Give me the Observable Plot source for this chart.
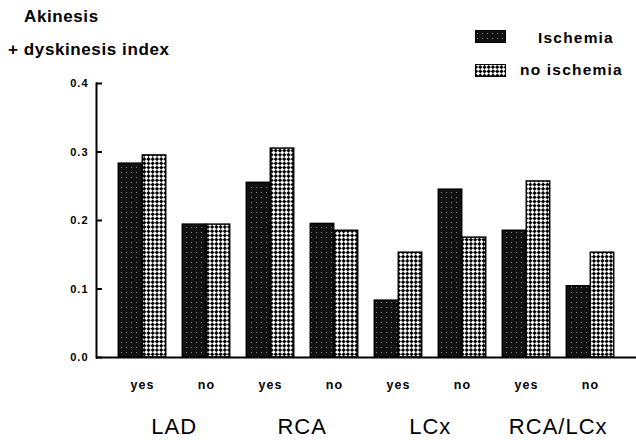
<!DOCTYPE html>
<html><head><meta charset="utf-8">
<script src="https://cdn.jsdelivr.net/npm/d3@7"></script>
<script src="https://cdn.jsdelivr.net/npm/@observablehq/plot@0.6"></script>
<style>
body{margin:0;background:#fff;font-family:"Liberation Sans",Arial,sans-serif;}
#wrap{position:relative;width:636px;height:440px;}
.t{position:absolute;font-weight:bold;white-space:nowrap;color:#000;line-height:1;}
.sw{position:absolute;width:29px;height:11px;border:1.5px solid #000;}
</style></head><body>
<svg width="0" height="0" style="position:absolute"><defs>
<pattern id="stip" width="5" height="5" patternUnits="userSpaceOnUse"><rect width="5" height="5" fill="#111"/><rect x="1" y="2" width="1" height="1" fill="#888"/></pattern>
<pattern id="check" width="6" height="6" patternUnits="userSpaceOnUse" patternTransform="rotate(45)"><rect width="6" height="6" fill="#fff"/><rect width="3" height="3" fill="#000"/><rect x="3" y="3" width="3" height="3" fill="#000"/></pattern>
</defs></svg>
<div id="wrap">
  <div id="chart"></div>
  <div class="t" style="left:24px;top:8px;font-size:17px;letter-spacing:0.6px">Akinesis</div>
  <div class="t" style="left:8px;top:41px;font-size:17px;letter-spacing:0.6px">+ dyskinesis index</div>
  <div class="sw" style="left:475px;top:30px;"><svg width="29" height="11" style="display:block"><rect width="29" height="11" fill="url(#stip)"/></svg></div>
  <div class="t" style="left:538px;top:30px;font-size:15.5px;letter-spacing:1.2px">Ischemia</div>
  <div class="sw" style="left:475px;top:64px;"><svg width="29" height="11" style="display:block"><rect width="29" height="11" fill="url(#check)"/></svg></div>
  <div class="t" style="left:520px;top:62px;font-size:15.5px;letter-spacing:1.2px">no ischemia</div>
</div>
<script>
const groups = ["LAD", "RCA", "LCx", "RCA/LCx"];
const stenosis = ["yes", "no"];
const ischemia = [0.283, 0.194, 0.255, 0.195, 0.083, 0.245, 0.185, 0.104];
const noIschemia = [0.295, 0.194, 0.305, 0.185, 0.153, 0.175, 0.257, 0.153];
const yTicks = [0, 0.1, 0.2, 0.3, 0.4];

const rows = [];
groups.forEach(g => stenosis.forEach(s => rows.push({group: g, sten: s, key: g + "|" + s})));
rows.forEach((r, i) => { r.isch = ischemia[i]; r.noIsch = noIschemia[i]; });
const keys = rows.map(r => r.key);

const W = 636, ML = 96, MR = 0, PO = 0.18;
const step = (W - ML - MR) / (keys.length + 2 * PO);
const barW = 24;

const chart = Plot.plot({
  width: W, height: 440,
  marginTop: 83, marginBottom: 83, marginLeft: ML, marginRight: MR,
  style: {fontFamily: "Liberation Sans, Arial, sans-serif", fontWeight: "bold", color: "#000", background: "transparent", letterSpacing: "1px"},
  x: {type: "band", domain: keys, paddingOuter: PO, paddingInner: 0},
  y: {domain: [0, 0.4]},
  marks: [
    Plot.barY(rows, {x: "key", y: "isch", fill: "url(#stip)", stroke: "#000", strokeWidth: 1.5, insetLeft: step / 2 - barW, insetRight: step / 2}),
    Plot.barY(rows, {x: "key", y: "noIsch", fill: "url(#check)", stroke: "#000", strokeWidth: 1.5, insetLeft: step / 2, insetRight: step / 2 - barW}),
    Plot.ruleY([0], {strokeWidth: 2.2}),
    Plot.frame({anchor: "left", strokeWidth: 2}),
    Plot.axisY(yTicks, {tickSize: -6, tickPadding: 14, tickFormat: d3.format(".1f"), fontSize: 11, label: null, strokeWidth: 2}),
    Plot.axisX({tickSize: 0, tickPadding: 23, tickFormat: k => k.split("|")[1], fontSize: 12.5, label: null}),
    Plot.text(groups, {x: g => g + "|no", text: d => d, frameAnchor: "bottom", lineAnchor: "bottom", dy: 76, dx: -step / 2, fontSize: 22, fontWeight: "normal"})
  ]
});
document.getElementById("chart").appendChild(chart);
</script>
</body></html>
